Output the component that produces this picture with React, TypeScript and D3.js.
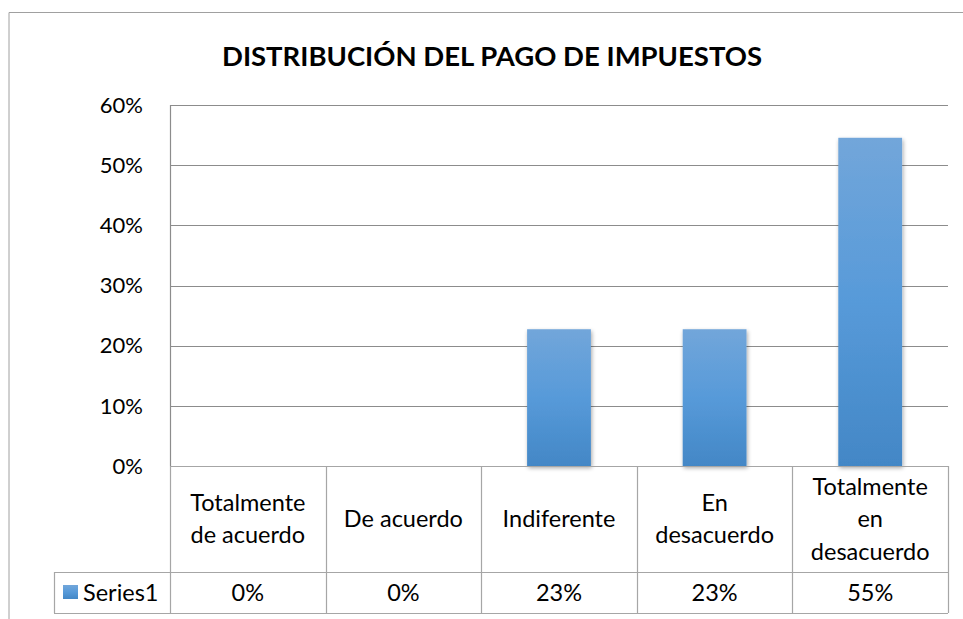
import React from "react";
import * as d3 from "d3";

const title = "DISTRIBUCIÓN DEL PAGO DE IMPUESTOS";
const categories = ["Totalmente de acuerdo", "De acuerdo", "Indiferente", "En desacuerdo", "Totalmente en desacuerdo"];
const categoryLines = [["Totalmente", "de acuerdo"], ["De acuerdo"], ["Indiferente"], ["En", "desacuerdo"], ["Totalmente", "en", "desacuerdo"]];
const seriesName = "Series1";
const values = [0, 0, 0.2273, 0.2273, 0.5455];
const yTicks = [0, 0.1, 0.2, 0.3, 0.4, 0.5, 0.6];

const W = 963;
const H = 619;
const FONT = "Lato, 'Open Sans', sans-serif";

export default function App() {
  const left = 170, right = 948, top = 105, bottom = 466;
  const headerBottom = 572, tableBottom = 613, legendLeft = 54;
  const x = d3.scaleBand<string>().domain(categories).range([left, right]).paddingInner(0).paddingOuter(0);
  const y = d3.scaleLinear().domain([0, 0.6]).range([bottom, top]);
  const fmt = d3.format(".0%");
  const barW = x.bandwidth() * 0.41;
  const lineH = 32.5;
  const gridColor = "#8c8c8c";
  const tableColor = "#a6a6a6";
  const tableFont = 23.5;

  return (
    <div style={{ position: "absolute", left: 0, top: 0 }}>
      <svg width={W} height={H} style={{ display: "block", background: "#fff" }}>
        <defs>
          <linearGradient id="barGrad" x1="0" y1="0" x2="0" y2="1">
            <stop offset="0%" stopColor="#72a6da" />
            <stop offset="50%" stopColor="#579ad9" />
            <stop offset="100%" stopColor="#4387c6" />
          </linearGradient>
          <filter id="shadow" x="-20%" y="-5%" width="140%" height="115%">
            <feGaussianBlur in="SourceAlpha" stdDeviation="2" />
            <feOffset dx="1" dy="2" result="b" />
            <feComponentTransfer><feFuncA type="linear" slope="0.35" /></feComponentTransfer>
            <feMerge><feMergeNode /><feMergeNode in="SourceGraphic" /></feMerge>
          </filter>
        </defs>
        {/* outer chart border */}
        <line x1={9} y1={12.5} x2={W} y2={12.5} stroke="#a0a0a0" strokeWidth={1} />
        <line x1={9} y1={12.5} x2={9} y2={H} stroke="#a0a0a0" strokeWidth={1} />

        <text x={492} y={66} textAnchor="middle" fontFamily={FONT} fontWeight={700} fontSize={26}
          textLength={540} lengthAdjust="spacingAndGlyphs" fill="#000">
          {title}
        </text>

        {/* gridlines */}
        {yTicks.map((t) => (
          <line key={t} x1={left} x2={right} y1={Math.round(y(t)) + 0.5} y2={Math.round(y(t)) + 0.5}
            stroke={t === 0 ? tableColor : gridColor} strokeWidth={1.2} />
        ))}
        <line x1={left + 0.5} x2={left + 0.5} y1={top} y2={bottom} stroke={gridColor} strokeWidth={1.2} />

        {/* y labels */}
        {yTicks.map((t) => (
          <text key={"l" + t} x={143} y={y(t)} dy="0.35em" textAnchor="end" fontFamily={FONT} fontSize={22} fill="#000">
            {fmt(t)}
          </text>
        ))}

        {/* bars */}
        {categories.map((c, i) => values[i] > 0 && (
          <rect key={c} x={(x(c) as number) + x.bandwidth() / 2 - barW / 2} y={y(values[i])}
            width={barW} height={bottom - y(values[i])} fill="url(#barGrad)" filter="url(#shadow)" />
        ))}

        {/* data table */}
        <g stroke={tableColor} strokeWidth={1.2} fill="none">
          <line x1={left} x2={right} y1={bottom + 0.5} y2={bottom + 0.5} />
          <line x1={legendLeft} x2={right} y1={headerBottom + 0.5} y2={headerBottom + 0.5} />
          <line x1={legendLeft} x2={right} y1={tableBottom + 0.5} y2={tableBottom + 0.5} />
          <line x1={legendLeft + 0.5} x2={legendLeft + 0.5} y1={headerBottom} y2={tableBottom} />
          {categories.map((c) => (
            <line key={"v" + c} x1={Math.round(x(c) as number) + 0.5} x2={Math.round(x(c) as number) + 0.5} y1={bottom} y2={tableBottom} />
          ))}
          <line x1={right + 0.5} x2={right + 0.5} y1={bottom} y2={tableBottom} />
        </g>

        {categories.map((c, i) => {
          const cx = (x(c) as number) + x.bandwidth() / 2;
          const lines = categoryLines[i];
          const cy = (bottom + headerBottom) / 2;
          const start = cy - ((lines.length - 1) * lineH) / 2;
          return (
            <g key={"h" + c}>
              {lines.map((ln, j) => (
                <text key={j} x={cx} y={start + j * lineH} dy="0.35em" textAnchor="middle" fontFamily={FONT} fontSize={tableFont} fill="#000">
                  {ln}
                </text>
              ))}
              <text x={cx} y={(headerBottom + tableBottom) / 2} dy="0.35em" textAnchor="middle" fontFamily={FONT} fontSize={tableFont} fill="#000">
                {fmt(values[i])}
              </text>
            </g>
          );
        })}

        {/* legend key */}
        <rect x={63} y={585} width={15} height={14} fill="url(#barGrad)" />
        <text x={83} y={(headerBottom + tableBottom) / 2} dy="0.35em" fontFamily={FONT} fontSize={tableFont} fill="#000">
          {seriesName}
        </text>
      </svg>
    </div>
  );
}
